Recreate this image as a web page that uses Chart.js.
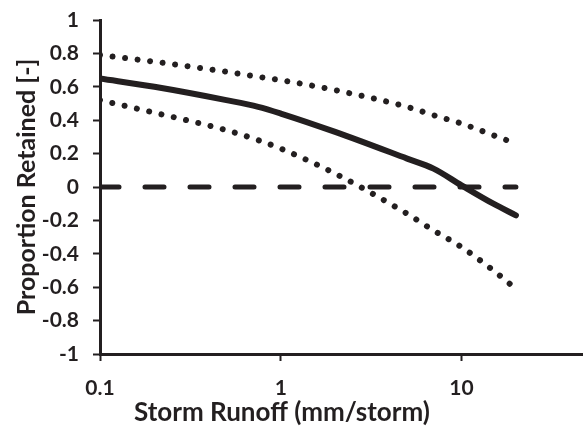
<!DOCTYPE html>
<html>
<head>
<meta charset="utf-8">
<script src="https://cdn.jsdelivr.net/npm/chart.js@4/dist/chart.umd.min.js"></script>
<style>
  body { margin: 0; background: #fff; }
  #wrap { width: 583px; height: 427px; }
</style>
</head>
<body>
<div id="wrap"><canvas id="myChart" width="583" height="427"></canvas></div>
<script>
// storm runoff (mm/storm), log axis
const runoff = [0.1, 0.2, 0.5, 0.75, 1, 2, 5, 7, 10, 15, 20];
// proportion retained: fitted line and its bounds
const retained = [0.65, 0.60, 0.52, 0.48, 0.44, 0.33, 0.17, 0.11, 0.01, -0.10, -0.17];
const upperBound = [0.79, 0.75, 0.69, 0.66, 0.64, 0.58, 0.48, 0.43, 0.38, 0.31, 0.26];
const lowerBound = [0.52, 0.445, 0.34, 0.28, 0.23, 0.08, -0.16, -0.26, -0.36, -0.50, -0.61];
// zero reference line
const zeroX = [0.1, 20];
const zeroY = [0, 0];
const xTicks = [0.1, 1, 10];
const xLabel = "Storm Runoff (mm/storm)";
const yLabel = "Proportion Retained [-]";

const INK = "#231f20";
const FONT = "Lato";

function pts(xs, ys) {
    return xs.map((x, i) => ({ x: x, y: ys[i] }));
}

const xTitle = {
    id: "xTitle",
    afterDraw(chart) {
        const ctx = chart.ctx;
        ctx.save();
        ctx.font = "bold 26px " + FONT;
        ctx.fillStyle = INK;
        ctx.textAlign = "center";
        ctx.textBaseline = "middle";
        ctx.fillText(xLabel, chart.chartArea.left + 182, 413);
        ctx.restore();
    }
};

const CHART = document.getElementById("myChart");
let lineChart = new Chart(CHART, {
    type: "line",
    data: {
        datasets: [
            {
                label: "zero",
                data: pts(zeroX, zeroY),
                borderColor: INK,
                borderWidth: 5,
                borderDash: [19, 26],
                borderCapStyle: "round",
                pointRadius: 0
            },
            {
                label: "upper",
                data: pts(runoff, upperBound),
                borderColor: INK,
                borderWidth: 6,
                borderDash: [0.01, 12.6],
                borderCapStyle: "round",
                cubicInterpolationMode: "monotone",
                pointRadius: 0
            },
            {
                label: "lower",
                data: pts(runoff, lowerBound),
                borderColor: INK,
                borderWidth: 6,
                borderDash: [0.01, 12.6],
                borderCapStyle: "round",
                cubicInterpolationMode: "monotone",
                pointRadius: 0
            },
            {
                label: "retained",
                data: pts(runoff, retained),
                borderColor: INK,
                borderWidth: 6,
                borderCapStyle: "round",
                cubicInterpolationMode: "monotone",
                pointRadius: 0
            }
        ]
    },
    options: {
        responsive: false,
        animation: false,
        devicePixelRatio: 1,
        layout: { padding: { top: 20, right: 0, bottom: 0, left: 0 } },
        plugins: {
            legend: { display: false },
            tooltip: { enabled: false }
        },
        scales: {
            x: {
                type: "logarithmic",
                min: 0.1,
                max: 47,
                afterBuildTicks: (scale) => {
                    scale.ticks = xTicks.map(v => ({ value: v }));
                },
                afterFit: (scale) => {
                    scale.height = 73;
                    scale.paddingLeft = 0;
                    scale.paddingRight = 0;
                },
                ticks: {
                    autoSkip: false,
                    maxRotation: 0,
                    padding: 15,
                    color: INK,
                    font: { family: FONT, size: 21, weight: "bold" },
                    callback: (v) => String(v)
                },
                grid: {
                    drawOnChartArea: false,
                    drawTicks: true,
                    tickLength: 7,
                    tickWidth: 2,
                    tickColor: INK
                },
                border: { display: true, width: 3, color: INK }
            },
            y: {
                min: -1,
                max: 1,
                afterFit: (scale) => {
                    scale.width = 100;
                    scale.paddingTop = 0;
                    scale.paddingBottom = 0;
                },
                ticks: {
                    stepSize: 0.2,
                    padding: 14,
                    color: INK,
                    font: { family: FONT, size: 21, weight: "bold" },
                    callback: (v) => String(Math.round(v * 10) / 10)
                },
                grid: {
                    drawOnChartArea: false,
                    drawTicks: true,
                    tickLength: 7,
                    tickWidth: 2,
                    tickColor: INK
                },
                border: { display: true, width: 3, color: INK },
                title: {
                    display: true,
                    text: yLabel,
                    color: INK,
                    font: { family: FONT, size: 25, weight: "bold" },
                    padding: { top: 12, bottom: 0 }
                }
            }
        }
    },
    plugins: [xTitle]
});
</script>
</body>
</html>
